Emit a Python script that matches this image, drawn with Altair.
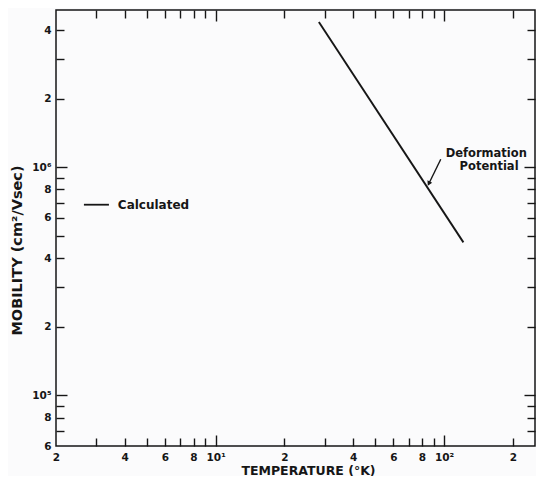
import altair as alt
import pandas as pd

# ---- data ----
temperature = [28.3, 121.5]          # K
mobility = [4.34e6, 4.69e5]          # cm^2/Vsec

x_label_values = [2, 4, 6, 8, 10, 20, 40, 60, 80, 100, 200]
x_labels = ["2", "4", "6", "8", "10¹", "2", "4", "6", "8", "10²", "2"]
x_minor = [3, 4, 5, 6, 7, 8, 9, 20, 30, 40, 50, 60, 70, 80, 90, 200]
x_major = [10, 100]

y_label_values = [6e4, 8e4, 1e5, 2e5, 4e5, 6e5, 8e5, 1e6, 2e6, 4e6]
y_labels = ["6", "8", "10⁵", "2", "4", "6", "8", "10⁶", "2", "4"]
y_minor = [7e4, 8e4, 9e4, 2e5, 3e5, 4e5, 5e5, 6e5, 7e5, 8e5, 9e5, 2e6, 3e6, 4e6]
y_major = [1e5, 1e6]

# annotations (data coordinates)
legend_text = ["Calculated"]
legend_text_x = [3.73]
legend_y = [6.86e5]
legend_line_x = [2.65]
legend_line_x2 = [3.41]

note_text = ["Deformation", "Potential"]
note_x = [152.9, 157.4]
note_y = [1.146e6, 1.005e6]

arrow_x = [96.7, 85.6]
arrow_y = [1.086e6, 8.45e5]
head_x = [86.0]
head_y = [8.55e5]

W, H = 479, 436
FONT = "DejaVu Sans"
INK = "#161616"

df = pd.DataFrame({"T": temperature, "mu": mobility})


def label_expr(values, labels):
    expr = "''"
    for v, l in reversed(list(zip(values, labels))):
        expr = f"datum.value == {v!r} ? '{l}' : ({expr})"
    return expr


xs = alt.Scale(type="log", domain=[2, 250], nice=False)
ys = alt.Scale(type="log", domain=[6e4, 4.9e6], nice=False)

ax_x = alt.Axis(
    orient="bottom", values=x_label_values, labelExpr=label_expr(x_label_values, x_labels),
    ticks=False, domain=False, grid=False, labelPadding=6, labelFontSize=10.5,
    labelFontWeight="bold", labelFont=FONT, labelColor=INK, labelFlush=False,
    labelOverlap=False,
    title="TEMPERATURE (°K)", titleFont=FONT, titleFontSize=12.5, titleFontWeight="bold",
    titleColor=INK, titleX=252, titleY=28, titleBaseline="alphabetic", titleAlign="center",
)
ax_y = alt.Axis(
    orient="left", values=y_label_values, labelExpr=label_expr(y_label_values, y_labels),
    ticks=False, domain=False, grid=False, labelPadding=5, labelFontSize=10.5,
    labelFontWeight="bold", labelFont=FONT, labelColor=INK, labelOverlap=False,
    title="MOBILITY (cm²/Vsec)", titleFont=FONT, titleFontSize=14.5, titleFontWeight="bold",
    titleColor=INK, titleX=-39, titleY=240, titleAngle=270, titleBaseline="middle",
    titleAlign="center",
)

line = alt.Chart(df).mark_line(color=INK, strokeWidth=1.9).encode(
    x=alt.X("T:Q", scale=xs, axis=ax_x),
    y=alt.Y("mu:Q", scale=ys, axis=ax_y),
)


def tick_axis(orient, offset, values, size):
    return alt.Axis(
        orient=orient, offset=offset, values=values, labels=False, domain=False,
        grid=False, ticks=True, tickSize=size, tickWidth=1.4, tickColor=INK, title=None,
    )


def tick_layer(xorient, yorient, xvals, yvals, size):
    return alt.Chart(df).mark_line(opacity=0).encode(
        x=alt.X("T:Q", scale=xs, axis=tick_axis(xorient, -H, xvals, size)),
        y=alt.Y("mu:Q", scale=ys, axis=tick_axis(yorient, -W, yvals, size)),
    )


ticks = [
    tick_layer("top", "right", x_minor, y_minor, 8),      # bottom & left edges, inward
    tick_layer("top", "right", x_major, y_major, 11),
    tick_layer("bottom", "left", x_minor, y_minor, 8),    # top & right edges, inward
    tick_layer("bottom", "left", x_major, y_major, 11),
]

leg_df = pd.DataFrame({"x": legend_line_x, "x2": legend_line_x2, "y": legend_y,
                       "tx": legend_text_x, "label": legend_text})
leg_line = alt.Chart(leg_df).mark_rule(color=INK, strokeWidth=1.8).encode(
    x=alt.X("x:Q", scale=xs, axis=None), x2="x2:Q",
    y=alt.Y("y:Q", scale=ys, axis=None),
)
leg_text = alt.Chart(leg_df).mark_text(
    align="left", baseline="middle", font=FONT, fontSize=12, fontWeight="bold", color=INK
).encode(
    x=alt.X("tx:Q", scale=xs, axis=None), y=alt.Y("y:Q", scale=ys, axis=None), text="label:N"
)

note_df = pd.DataFrame({"x": note_x, "y": note_y, "label": note_text})
note = alt.Chart(note_df).mark_text(
    align="center", baseline="middle", font=FONT, fontSize=11.5, fontWeight="bold", color=INK
).encode(
    x=alt.X("x:Q", scale=xs, axis=None), y=alt.Y("y:Q", scale=ys, axis=None), text="label:N"
)

arrow_df = pd.DataFrame({"x": arrow_x, "y": arrow_y})
arrow = alt.Chart(arrow_df).mark_line(color=INK, strokeWidth=1.4).encode(
    x=alt.X("x:Q", scale=xs, axis=None), y=alt.Y("y:Q", scale=ys, axis=None)
)
head_df = pd.DataFrame({"x": head_x, "y": head_y})
head = alt.Chart(head_df).mark_point(
    shape="triangle", angle=206, filled=True, size=28, color=INK, opacity=1
).encode(
    x=alt.X("x:Q", scale=xs, axis=None), y=alt.Y("y:Q", scale=ys, axis=None)
)

chart = alt.layer(line, *ticks, leg_line, leg_text, note, arrow, head).resolve_scale(
    x="independent", y="independent"
).properties(
    width=W, height=H,
    autosize=alt.AutoSizeParams(type="none"),
    padding={"left": 48, "top": 2, "right": 1, "bottom": 30},
    background="#fbfbfc",
).configure_view(stroke=INK, strokeWidth=1.5)

chart.save("out.html", embed_options={"renderer": "svg", "actions": False})
